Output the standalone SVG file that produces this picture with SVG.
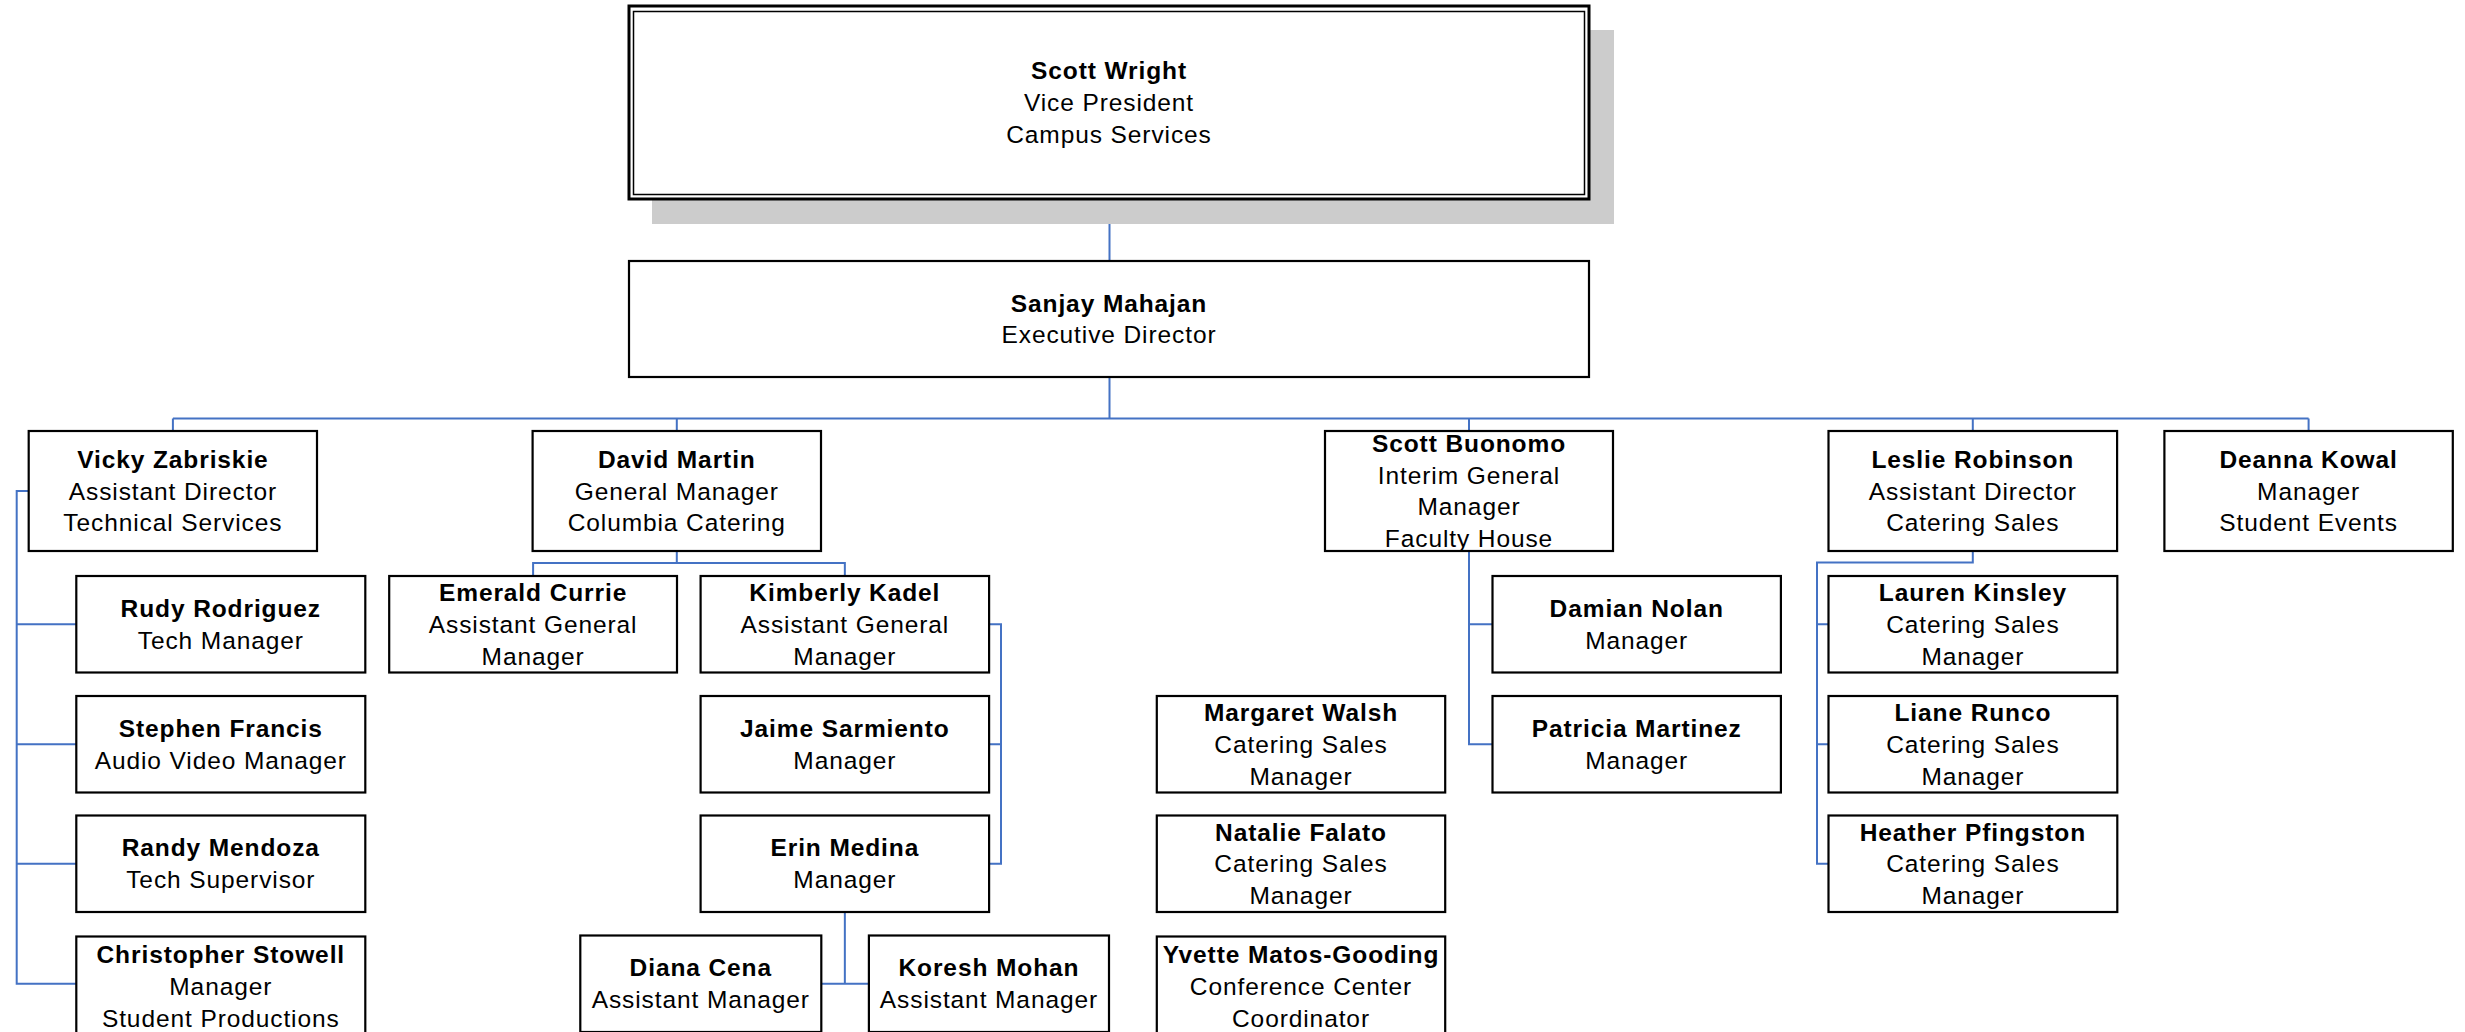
<svg xmlns="http://www.w3.org/2000/svg" width="2465" height="1032" viewBox="0 0 2465 1032">
<style>
.box{fill:#fff;stroke:#000;stroke-width:2.2}
.t{font-family:"Liberation Sans",Arial,sans-serif;font-size:24.5px;letter-spacing:0.9px;text-anchor:middle;fill:#000}
.b{font-weight:bold}
.c{fill:none;stroke:#4472C4;stroke-width:2}
</style>
<rect x="0" y="0" width="2465" height="1032" fill="#fff"/>
<g id="connectors">
<path class="c" d="M1109.5 199V261M1109.5 377V418.5M172.9 418.5H2308.6M172.9 418.5V431M676.8 418.5V431M1469 418.5V431M1972.8 418.5V431M2308.6 418.5V431"/>
<path class="c" d="M28.7 491H16.7V983.75H76.3M16.7 624.25H76.3M16.7 744.25H76.3M16.7 863.75H76.3"/>
<path class="c" d="M676.8 551V563H533.1V576M676.8 563H844.85V576"/>
<path class="c" d="M989.1 624.25H1001V863.75H989.1M1001 744.25H989.1"/>
<path class="c" d="M844.85 912V983.75M821.3 983.75H868.9"/>
<path class="c" d="M1469 551V744.25H1492.5M1469 624.25H1492.5"/>
<path class="c" d="M1972.8 551V562.5H1817V863.75H1828.5M1817 624.25H1828.5M1817 744.25H1828.5"/>
</g>
<g id="scott-wright">
<rect x="652" y="30" width="962" height="194" fill="#cccccc"/>
<rect x="629" y="6" width="960" height="193" fill="#fff" stroke="#000" stroke-width="3"/>
<rect x="633.5" y="11.5" width="951" height="183" fill="none" stroke="#000" stroke-width="1.5"/>
<text class="t"><tspan class="b" x="1109" y="79.3">Scott Wright</tspan><tspan x="1109" y="111.1">Vice President</tspan><tspan x="1109" y="142.9">Campus Services</tspan></text>
</g>
<g id="sanjay-mahajan">
<rect class="box" x="629" y="261" width="960" height="116"/>
<text class="t"><tspan class="b" x="1109" y="311.6">Sanjay Mahajan</tspan><tspan x="1109" y="343.4">Executive Director</tspan></text>
</g>
<g id="vicky-zabriskie">
<rect class="box" x="28.7" y="431" width="288.3" height="120"/>
<text class="t"><tspan class="b" x="172.9" y="467.7">Vicky Zabriskie</tspan><tspan x="172.9" y="499.5">Assistant Director</tspan><tspan x="172.9" y="531.3">Technical Services</tspan></text>
</g>
<g id="david-martin">
<rect class="box" x="532.6" y="431" width="288.4" height="120"/>
<text class="t"><tspan class="b" x="676.8" y="467.7">David Martin</tspan><tspan x="676.8" y="499.5">General Manager</tspan><tspan x="676.8" y="531.3">Columbia Catering</tspan></text>
</g>
<g id="scott-buonomo">
<rect class="box" x="1325" y="431" width="288" height="120"/>
<text class="t"><tspan class="b" x="1469" y="451.8">Scott Buonomo</tspan><tspan x="1469" y="483.6">Interim General</tspan><tspan x="1469" y="515.4">Manager</tspan><tspan x="1469" y="547.2">Faculty House</tspan></text>
</g>
<g id="leslie-robinson">
<rect class="box" x="1828.5" y="431" width="288.6" height="120"/>
<text class="t"><tspan class="b" x="1972.8" y="467.7">Leslie Robinson</tspan><tspan x="1972.8" y="499.5">Assistant Director</tspan><tspan x="1972.8" y="531.3">Catering Sales</tspan></text>
</g>
<g id="deanna-kowal">
<rect class="box" x="2164.4" y="431" width="288.4" height="120"/>
<text class="t"><tspan class="b" x="2308.6" y="467.7">Deanna Kowal</tspan><tspan x="2308.6" y="499.5">Manager</tspan><tspan x="2308.6" y="531.3">Student Events</tspan></text>
</g>
<g id="rudy-rodriguez">
<rect class="box" x="76.3" y="576" width="289" height="96.5"/>
<text class="t"><tspan class="b" x="220.8" y="616.85">Rudy Rodriguez</tspan><tspan x="220.8" y="648.65">Tech Manager</tspan></text>
</g>
<g id="stephen-francis">
<rect class="box" x="76.3" y="696" width="289" height="96.5"/>
<text class="t"><tspan class="b" x="220.8" y="736.85">Stephen Francis</tspan><tspan x="220.8" y="768.65">Audio Video Manager</tspan></text>
</g>
<g id="randy-mendoza">
<rect class="box" x="76.3" y="815.5" width="289" height="96.5"/>
<text class="t"><tspan class="b" x="220.8" y="856.35">Randy Mendoza</tspan><tspan x="220.8" y="888.15">Tech Supervisor</tspan></text>
</g>
<g id="christopher-stowell">
<rect class="box" x="76.3" y="936.5" width="289" height="100"/>
<text class="t"><tspan class="b" x="220.8" y="963.2">Christopher Stowell</tspan><tspan x="220.8" y="995">Manager</tspan><tspan x="220.8" y="1026.8">Student Productions</tspan></text>
</g>
<g id="emerald-currie">
<rect class="box" x="389.2" y="576" width="287.8" height="96.5"/>
<text class="t"><tspan class="b" x="533.1" y="601">Emerald Currie</tspan><tspan x="533.1" y="632.75">Assistant General</tspan><tspan x="533.1" y="664.55">Manager</tspan></text>
</g>
<g id="kimberly-kadel">
<rect class="box" x="700.6" y="576" width="288.5" height="96.5"/>
<text class="t"><tspan class="b" x="844.85" y="601">Kimberly Kadel</tspan><tspan x="844.85" y="632.75">Assistant General</tspan><tspan x="844.85" y="664.55">Manager</tspan></text>
</g>
<g id="jaime-sarmiento">
<rect class="box" x="700.6" y="696" width="288.5" height="96.5"/>
<text class="t"><tspan class="b" x="844.85" y="736.85">Jaime Sarmiento</tspan><tspan x="844.85" y="768.65">Manager</tspan></text>
</g>
<g id="erin-medina">
<rect class="box" x="700.6" y="815.5" width="288.5" height="96.5"/>
<text class="t"><tspan class="b" x="844.85" y="856.35">Erin Medina</tspan><tspan x="844.85" y="888.15">Manager</tspan></text>
</g>
<g id="diana-cena">
<rect class="box" x="580.3" y="935.5" width="241" height="96.5"/>
<text class="t"><tspan class="b" x="700.8" y="976.35">Diana Cena</tspan><tspan x="700.8" y="1008.15">Assistant Manager</tspan></text>
</g>
<g id="koresh-mohan">
<rect class="box" x="868.9" y="935.5" width="240.1" height="96.5"/>
<text class="t"><tspan class="b" x="988.95" y="976.35">Koresh Mohan</tspan><tspan x="988.95" y="1008.15">Assistant Manager</tspan></text>
</g>
<g id="margaret-walsh">
<rect class="box" x="1156.8" y="696" width="288.4" height="96.5"/>
<text class="t"><tspan class="b" x="1301" y="721">Margaret Walsh</tspan><tspan x="1301" y="752.75">Catering Sales</tspan><tspan x="1301" y="784.55">Manager</tspan></text>
</g>
<g id="natalie-falato">
<rect class="box" x="1156.8" y="815.5" width="288.4" height="96.5"/>
<text class="t"><tspan class="b" x="1301" y="840.5">Natalie Falato</tspan><tspan x="1301" y="872.25">Catering Sales</tspan><tspan x="1301" y="904.05">Manager</tspan></text>
</g>
<g id="yvette-matos-gooding">
<rect class="box" x="1156.8" y="936.5" width="288.4" height="100"/>
<text class="t"><tspan class="b" x="1301" y="963.2">Yvette Matos-Gooding</tspan><tspan x="1301" y="995">Conference Center</tspan><tspan x="1301" y="1026.8">Coordinator</tspan></text>
</g>
<g id="damian-nolan">
<rect class="box" x="1492.5" y="576" width="288.4" height="96.5"/>
<text class="t"><tspan class="b" x="1636.7" y="616.85">Damian Nolan</tspan><tspan x="1636.7" y="648.65">Manager</tspan></text>
</g>
<g id="patricia-martinez">
<rect class="box" x="1492.5" y="696" width="288.4" height="96.5"/>
<text class="t"><tspan class="b" x="1636.7" y="736.85">Patricia Martinez</tspan><tspan x="1636.7" y="768.65">Manager</tspan></text>
</g>
<g id="lauren-kinsley">
<rect class="box" x="1828.5" y="576" width="288.8" height="96.5"/>
<text class="t"><tspan class="b" x="1972.9" y="601">Lauren Kinsley</tspan><tspan x="1972.9" y="632.75">Catering Sales</tspan><tspan x="1972.9" y="664.55">Manager</tspan></text>
</g>
<g id="liane-runco">
<rect class="box" x="1828.5" y="696" width="288.8" height="96.5"/>
<text class="t"><tspan class="b" x="1972.9" y="721">Liane Runco</tspan><tspan x="1972.9" y="752.75">Catering Sales</tspan><tspan x="1972.9" y="784.55">Manager</tspan></text>
</g>
<g id="heather-pfingston">
<rect class="box" x="1828.5" y="815.5" width="288.8" height="96.5"/>
<text class="t"><tspan class="b" x="1972.9" y="840.5">Heather Pfingston</tspan><tspan x="1972.9" y="872.25">Catering Sales</tspan><tspan x="1972.9" y="904.05">Manager</tspan></text>
</g>
</svg>
